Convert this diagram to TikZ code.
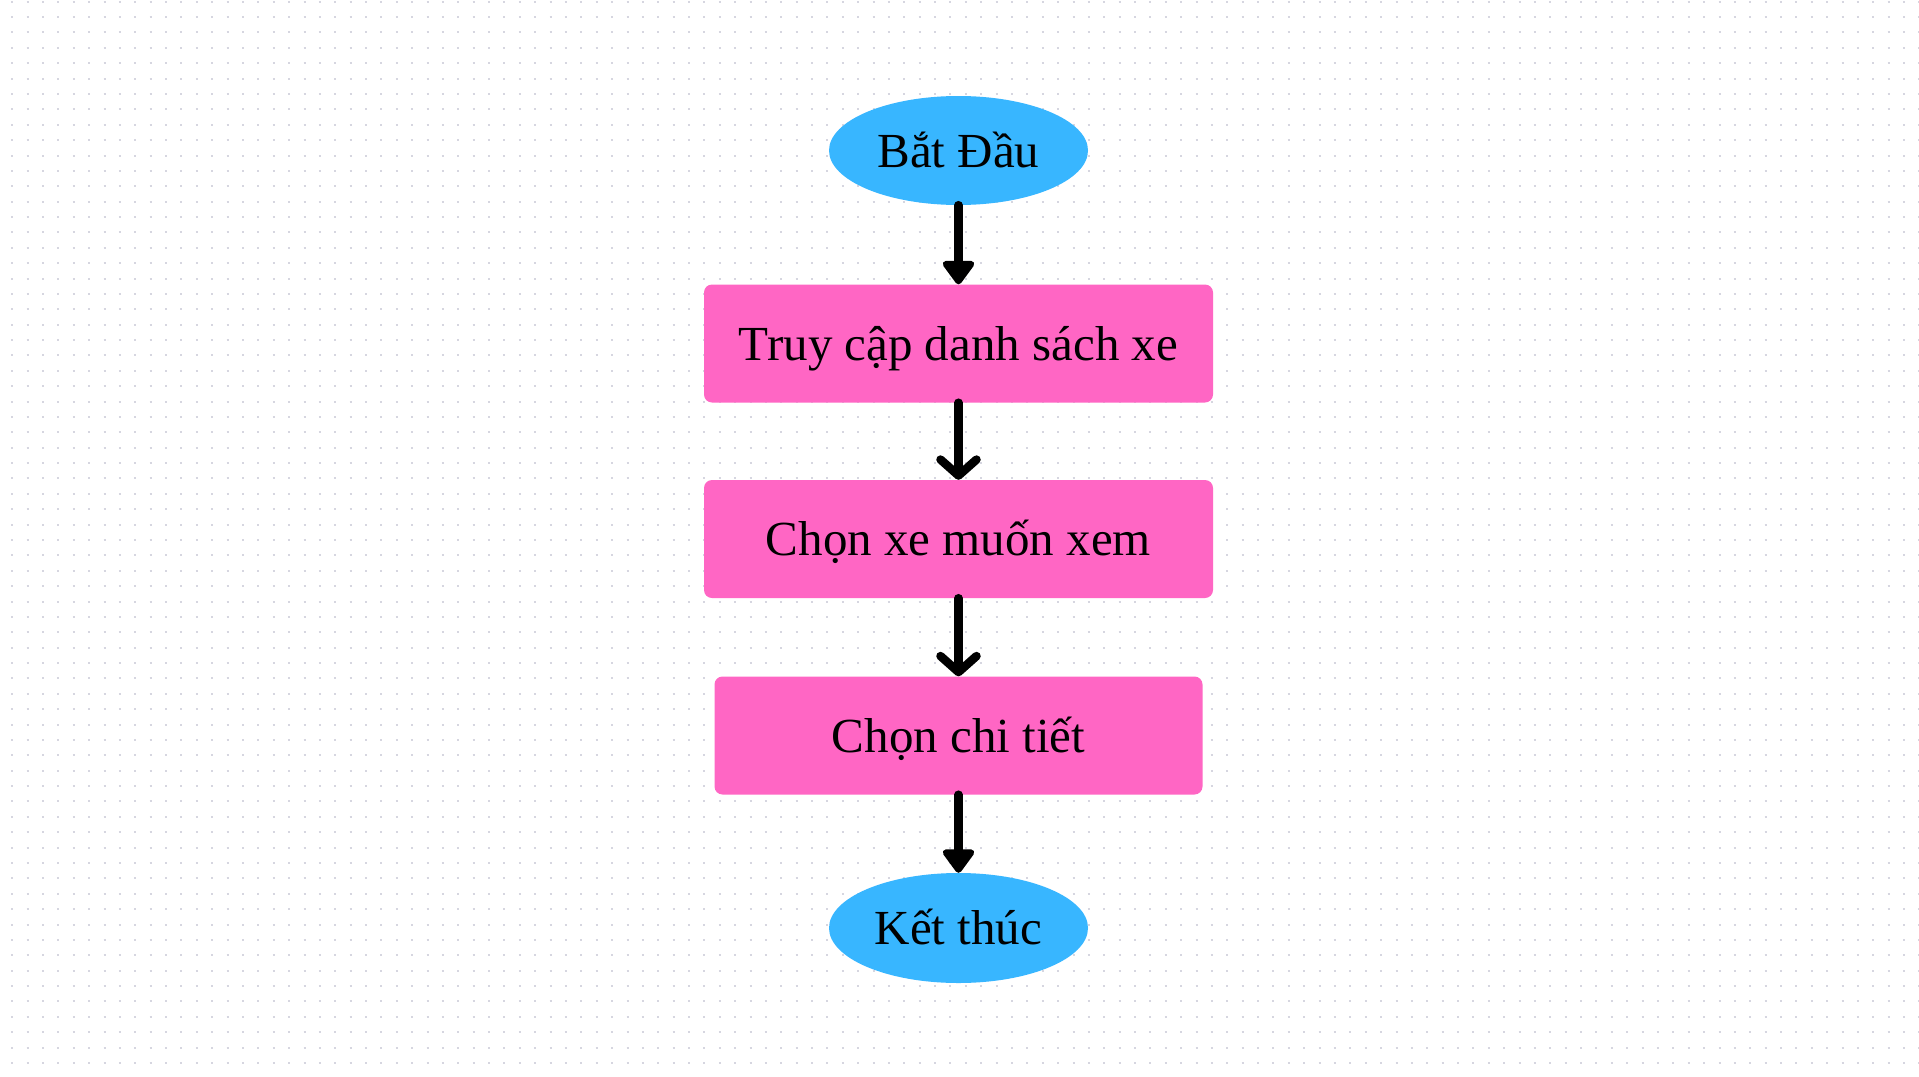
\documentclass[tikz,border=0pt]{standalone}
\usepackage{fontspec}
\setmainfont{Liberation Serif}
\usetikzlibrary{arrows.meta,shapes.geometric}
\definecolor{skyb}{HTML}{38B6FF}
\definecolor{pinkb}{HTML}{FF66C4}
\definecolor{dotc}{RGB}{214,214,224}
\begin{document}
\begin{tikzpicture}[x=1pt,y=-1pt,
  lbl/.style={font=\fontsize{49}{59}\selectfont, text=black, text height=33pt, text depth=0pt, inner sep=0pt, align=center},
  term/.style={lbl, ellipse, fill=skyb, minimum width=259pt, minimum height=109pt},
  proc/.style={lbl, rectangle, rounded corners=8pt, fill=pinkb, minimum height=118pt},
  conn/.style={line width=8.5pt, black, line cap=round},
  solidtip/.style={conn, -{Triangle[width=36pt,length=26pt,round]}},
  opentip/.style={conn, -{Straight Barb[width=36pt,length=16pt,round]}},
  dotrow/.style={dotc, line width=2pt, dash pattern=on 2pt off 13.38pt}
]
\fill[white] (0,0) rectangle (1919,1076);
\useasboundingbox (0,0) rectangle (1919,1076);
\foreach \k in {0,...,69} {
  \draw[dotrow] (11.3,{1.7+15.38*\k}) -- (1919,{1.7+15.38*\k});
}
\node[term] (start) at (958.5,150.5) {Bắt Đầu};
\node[proc, minimum width=509pt] (b1) at (958.5,343.5) {Truy cập danh sách xe};
\node[proc, minimum width=509pt] (b2) at (958.5,539) {Chọn xe muốn xem};
\node[proc, minimum width=488pt] (b3) at (958.5,735.5) {Chọn chi tiết};
\node[term, minimum height=110pt] (end) at (958.5,928) {Kết thúc};
\draw[solidtip] (start.south) -- (b1.north);
\draw[opentip] (b1.south) -- (b2.north);
\draw[opentip] (b2.south) -- (b3.north);
\draw[solidtip] (b3.south) -- (end.north);
\end{tikzpicture}
\end{document}
